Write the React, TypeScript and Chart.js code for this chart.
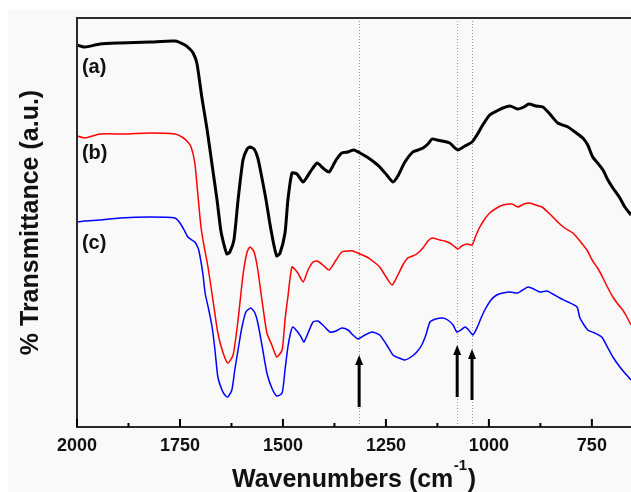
import React, { useEffect, useRef } from 'react';
import { Chart, registerables } from 'chart.js';

Chart.register(...registerables);

// ---- data (wavenumber in cm^-1, transmittance in arbitrary units) ----
const wavenumbersA = [2000,1981,1944,1896,1823,1762,1738,1726,1718,1709,1697,1684,1672,1660,1651,1643,1636,1629,1619,1609,1597,1587,1580,1570,1561,1551,1541,1532,1522,1515,1507,1495,1488,1478,1466,1451,1434,1417,1403,1388,1371,1357,1342,1328,1313,1296,1279,1265,1248,1233,1221,1204,1185,1172,1160,1148,1138,1126,1114,1095,1085,1075,1058,1041,1029,1015,998,981,966,949,930,915,903,886,869,852,833,808,791,772,760,748,736,723,711,699,682,670,655];
const transmittanceA = [382,380,383,384,385,386,382,378,374,364,330,297,262,227,197,182,173,175,187,227,267,278,280,278,269,249,227,204,182,171,174,194,227,254,253,245,255,264,259,255,267,274,275,277,274,270,265,260,252,245,251,265,275,277,279,283,288,287,286,284,280,277,281,285,292,302,312,316,319,321,318,320,323,321,320,313,304,300,295,289,282,270,264,257,247,239,229,220,212];

const wavenumbersB = [2000,1981,1944,1884,1823,1762,1745,1733,1723,1714,1706,1699,1692,1682,1670,1658,1646,1634,1621,1609,1597,1587,1580,1570,1561,1551,1539,1527,1515,1502,1495,1488,1478,1464,1451,1439,1427,1417,1403,1388,1371,1357,1342,1330,1313,1296,1279,1265,1248,1235,1221,1209,1197,1185,1175,1160,1148,1138,1119,1107,1095,1085,1075,1066,1053,1041,1032,1022,1010,998,981,966,944,930,915,901,886,871,852,833,816,796,779,762,748,736,723,711,699,687,675,665,655];
const transmittanceB = [291,289,293,293,294,293,290,286,280,264,230,200,182,160,127,94,75,64,72,107,152,175,180,175,157,127,94,82,70,77,107,130,160,154,145,157,165,166,162,157,167,175,176,176,173,170,165,160,149,142,152,162,169,171,173,179,186,189,187,186,184,181,178,181,183,182,191,200,208,214,219,222,223,220,223,224,222,220,213,205,199,194,186,177,166,159,149,139,130,123,117,110,102];

const wavenumbersC = [2000,1981,1944,1896,1823,1762,1750,1740,1731,1721,1714,1706,1701,1694,1689,1680,1672,1665,1658,1648,1641,1634,1624,1617,1609,1600,1590,1578,1568,1561,1551,1539,1527,1515,1502,1495,1488,1481,1476,1464,1456,1449,1439,1427,1415,1401,1386,1371,1357,1342,1330,1318,1301,1284,1265,1248,1233,1218,1204,1189,1175,1163,1153,1143,1129,1112,1100,1087,1078,1068,1058,1049,1039,1029,1019,1010,995,981,966,949,930,918,905,891,876,859,845,828,808,786,779,760,743,726,711,699,682,670,655];
const transmittanceC = [205,206,207,209,210,209,204,197,190,187,185,179,170,152,134,117,100,77,50,37,32,30,37,57,77,99,115,119,114,104,82,54,39,31,34,57,80,95,100,95,90,85,94,105,106,101,95,96,99,97,92,88,92,95,92,82,72,69,67,70,75,82,92,105,108,109,107,102,95,97,100,97,92,99,109,117,127,132,134,135,134,137,140,138,135,136,133,129,125,120,109,97,94,90,79,70,60,54,47];

const seriesLabels = ['(a)', '(b)', '(c)'];
const seriesColors = ['#000000', '#ff0000', '#0000ff'];
const labelWavenumber = 1988;
const labelLevels = [360, 274, 184];

const markerWavenumbers = [1315, 1077, 1041];
const arrowBase = [20, 30, 27];
const arrowTip = [72, 82, 78];

const xMin = 655;
const xMax = 2000;
const yMin = 0;
const yMax = 409;
const majorStep = 250;
const minorStep = 125;

const xTitleMain = 'Wavenumbers (cm';
const xTitleSup = '-1';
const xTitleEnd = ')';
const yTitle = '% Transmittance (a.u.)';

const FONT = "'Liberation Sans', Arial, Helvetica, sans-serif";

function toPoints(xs: number[], ys: number[]) {
  return xs.map((x, i) => ({ x, y: ys[i] }));
}

const decorPlugin = {
  id: 'decor',
  beforeDraw(chart: any) {
    const ctx = chart.ctx;
    ctx.save();
    ctx.fillStyle = '#ffffff';
    ctx.fillRect(0, 0, chart.width, chart.height);
    ctx.fillStyle = '#f9f9f9';
    ctx.fillRect(8, 10, chart.width - 8, chart.height - 10);
    ctx.restore();
  },
  beforeDatasetsDraw(chart: any) {
    const ctx = chart.ctx;
    const xs = chart.scales.x;
    const { top, bottom } = chart.chartArea;
    ctx.save();
    ctx.strokeStyle = '#9a9a9a';
    ctx.lineWidth = 1;
    ctx.setLineDash([1, 2]);
    markerWavenumbers.forEach((w) => {
      const px = Math.round(xs.getPixelForValue(w)) + 0.5;
      ctx.beginPath();
      ctx.moveTo(px, top);
      ctx.lineTo(px, bottom);
      ctx.stroke();
    });
    ctx.restore();
  },
  afterDatasetsDraw(chart: any) {
    const ctx = chart.ctx;
    const xs = chart.scales.x;
    const ys = chart.scales.y;
    const { left, top, right, bottom } = chart.chartArea;
    ctx.save();
    // frame
    ctx.strokeStyle = '#2a2a2a';
    ctx.lineWidth = 2;
    ctx.beginPath();
    ctx.moveTo(right + 2, top);
    ctx.lineTo(left, top);
    ctx.lineTo(left, bottom);
    ctx.lineTo(right + 2, bottom);
    ctx.stroke();
    // inward ticks
    ctx.strokeStyle = '#000000';
    ctx.lineWidth = 2;
    for (let v = xMax; v >= xMin; v -= minorStep) {
      const px = xs.getPixelForValue(v);
      const len = v % majorStep === 0 ? 8 : 4;
      ctx.beginPath();
      ctx.moveTo(px, bottom);
      ctx.lineTo(px, bottom - len);
      ctx.stroke();
    }
    // arrows
    ctx.fillStyle = '#000000';
    ctx.strokeStyle = '#000000';
    markerWavenumbers.forEach((w, i) => {
      const px = xs.getPixelForValue(w);
      const y0 = ys.getPixelForValue(arrowBase[i]);
      const y1 = ys.getPixelForValue(arrowTip[i]);
      ctx.lineWidth = 3;
      ctx.beginPath();
      ctx.moveTo(px, y0);
      ctx.lineTo(px, y1 + 8);
      ctx.stroke();
      ctx.beginPath();
      ctx.moveTo(px, y1);
      ctx.lineTo(px - 4, y1 + 10);
      ctx.lineTo(px + 4, y1 + 10);
      ctx.closePath();
      ctx.fill();
    });
    // series labels
    ctx.fillStyle = '#111111';
    ctx.font = `bold 20px ${FONT}`;
    ctx.textAlign = 'left';
    ctx.textBaseline = 'middle';
    seriesLabels.forEach((s, i) => {
      ctx.fillText(s, xs.getPixelForValue(labelWavenumber), ys.getPixelForValue(labelLevels[i]));
    });
    // x title with superscript
    const cx = (left + right) / 2;
    const base = 487;
    ctx.textBaseline = 'alphabetic';
    ctx.font = `bold 25px ${FONT}`;
    const wMain = ctx.measureText(xTitleMain).width;
    const wEnd = ctx.measureText(xTitleEnd).width;
    ctx.font = `bold 15px ${FONT}`;
    const wSup = ctx.measureText(xTitleSup).width;
    const total = wMain + wSup + wEnd + 1;
    let x0 = cx - total / 2;
    ctx.font = `bold 25px ${FONT}`;
    ctx.fillText(xTitleMain, x0, base);
    ctx.font = `bold 15px ${FONT}`;
    ctx.fillText(xTitleSup, x0 + wMain + 0.5, base - 17);
    ctx.font = `bold 25px ${FONT}`;
    ctx.fillText(xTitleEnd, x0 + wMain + wSup + 1, base);
    // y title
    ctx.translate(38, (top + bottom) / 2);
    ctx.rotate(-Math.PI / 2);
    ctx.textAlign = 'center';
    ctx.font = `bold 25px ${FONT}`;
    ctx.fillText(yTitle, 0, 0);
    ctx.restore();
  },
};

export default function App() {
  const ref = useRef<HTMLCanvasElement | null>(null);
  useEffect(() => {
    if (!ref.current) return;
    const chart = new Chart(ref.current, {
      type: 'line',
      data: {
        datasets: [
          { label: seriesLabels[0], data: toPoints(wavenumbersA, transmittanceA), borderColor: seriesColors[0], borderWidth: 3, pointRadius: 0, tension: 0.2, fill: false },
          { label: seriesLabels[1], data: toPoints(wavenumbersB, transmittanceB), borderColor: seriesColors[1], borderWidth: 1.5, pointRadius: 0, tension: 0.2, fill: false },
          { label: seriesLabels[2], data: toPoints(wavenumbersC, transmittanceC), borderColor: seriesColors[2], borderWidth: 1.5, pointRadius: 0, tension: 0.2, fill: false },
        ],
      },
      options: {
        responsive: false,
        animation: false,
        devicePixelRatio: 1,
        layout: { padding: { top: 18, right: 0, bottom: 0, left: 0 } },
        plugins: { legend: { display: false }, tooltip: { enabled: false } },
        scales: {
          x: {
            type: 'linear',
            reverse: true,
            min: xMin,
            max: xMax,
            grid: { display: false, drawTicks: false },
            border: { display: false },
            afterFit: (s: any) => { s.height = 65; },
            ticks: {
              stepSize: majorStep,
              includeBounds: false,
              autoSkip: false,
              maxRotation: 0,
              padding: 8,
              color: '#111111',
              font: { family: FONT, size: 18, weight: 'bold' },
              callback: (v: any) => (Number(v) % majorStep === 0 ? String(v) : ''),
            },
          },
          y: {
            type: 'linear',
            min: yMin,
            max: yMax,
            grid: { display: false, drawTicks: false },
            border: { display: false },
            ticks: { display: false },
            afterFit: (s: any) => { s.width = 77; },
          },
        },
      },
      plugins: [decorPlugin],
    });
    return () => chart.destroy();
  }, []);
  return (
    <div style={{ position: 'absolute', left: 0, top: 0, width: 631, height: 492 }}>
      <canvas ref={ref} width={631} height={492} style={{ display: 'block', width: 631, height: 492 }} />
    </div>
  );
}
